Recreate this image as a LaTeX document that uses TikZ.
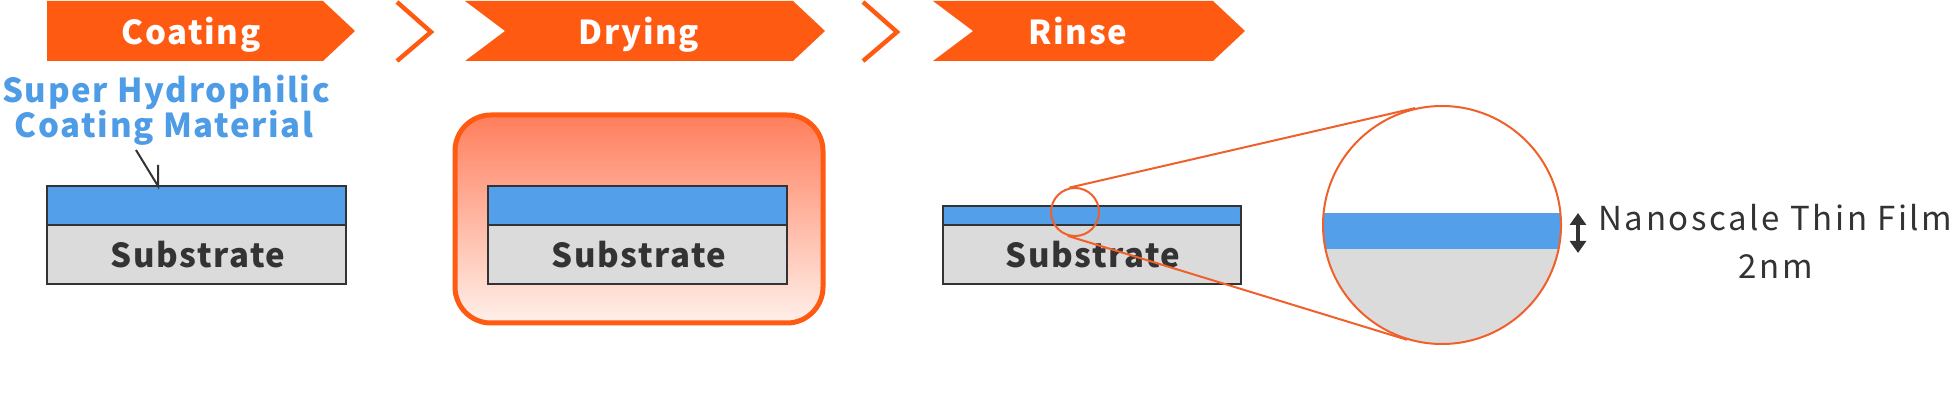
\documentclass[tikz,border=0pt]{standalone}
\usepackage{fontspec}
\newfontfamily\bfnt{Noto Sans CJK JP}[LetterSpace=5]
\newfontfamily\rfnt{Noto Sans CJK JP}[LetterSpace=8]
\usetikzlibrary{arrows.meta,calc}
\definecolor{orng}{HTML}{FF5A12}
\definecolor{lorng}{HTML}{F0602A}
\definecolor{fblue}{HTML}{539FE9}
\definecolor{tblue}{HTML}{4E9BE6}
\definecolor{sgray}{HTML}{DCDBDB}
\definecolor{dk}{HTML}{333333}
\definecolor{gtop}{HTML}{FF7E5C}
\definecolor{gbot}{HTML}{FFF0EA}
\begin{document}
\begin{tikzpicture}[x=0.5pt,y=-0.5pt,
  banner/.style={fill=orng},
  btext/.style={text=white,font=\bfnt\bfseries\fontsize{16.5}{20}\selectfont,inner sep=0,anchor=base},
  chev/.style={draw=orng,line width=2.2pt},
  layerline/.style={draw=dk,line width=1.1pt},
  subtext/.style={text=dk,font=\bfnt\bfseries\fontsize{16.5}{20}\selectfont,inner sep=0,anchor=base},
  lbl/.style={text=tblue,font=\bfnt\bfseries\fontsize{16.5}{20}\selectfont,inner sep=0,anchor=base},
  nanotext/.style={text=dk,font=\rfnt\fontsize{16.5}{20}\selectfont,inner sep=0},
  zoomline/.style={draw=lorng,line width=1pt},
  zcirc/.style={circle,draw=lorng,line width=1pt,inner sep=0}]
\useasboundingbox (0,0) rectangle (1952,416);
% banners
\path[banner] (47,1) -- (323,1) -- (355,31) -- (323,61) -- (47,61) -- cycle;
\node[btext] (tcoat) at (191,45) {Coating};
\draw[chev] (397,2) -- (431,32) -- (397,61);
\path[banner] (465,1) -- (793,1) -- (825,31) -- (793,61) -- (465,61) -- (505,31) -- cycle;
\node[btext] (tdry) at (639,45) {Drying};
\draw[chev] (863,2) -- (897,32) -- (863,61);
\path[banner] (933,1) -- (1213,1) -- (1245,31) -- (1213,61) -- (933,61) -- (973,31) -- cycle;
\node[btext] (trinse) at (1078,45) {Rinse};
% label
\node[lbl] (lab1) at (166,103) {Super Hydrophilic};
\node[lbl] (lab2) at (164,138) {Coating Material};
% coating block
\fill[sgray] (47,225) rectangle (346,284);
\fill[fblue] (47,186) rectangle (346,225);
\draw[layerline] (47,186) rectangle (346,284);
\draw[layerline] (47,225) -- (346,225);
\node[subtext] (s1) at (198,268) {Substrate};
\coordinate (ldA) at (136,150);
\coordinate (ldM) at (158,186);
\coordinate (ldB) at (158,165);
\draw[dk,line width=1pt] (ldA) -- (ldM) -- (ldB);
% drying
\draw[draw=orng,line width=2.5pt,rounded corners=18pt,top color=gtop,bottom color=gbot] (455,115) rectangle (823,323);
\fill[sgray] (488,225) rectangle (787,284);
\fill[fblue] (488,186) rectangle (787,225);
\draw[layerline] (488,186) rectangle (787,284);
\draw[layerline] (488,225) -- (787,225);
\node[subtext] (s2) at (639,268) {Substrate};
% rinse
\fill[sgray] (943,225) rectangle (1241,284);
\fill[fblue] (943,206) rectangle (1241,225);
\draw[layerline] (943,206) rectangle (1241,284);
\draw[layerline] (943,225) -- (1241,225);
\node[subtext] (s3) at (1093,268) {Substrate};
% zoom
\node[zcirc,minimum size=24pt] (zs) at (1075,212) {};
\begin{scope}
\clip (1442,225) circle (119);
\fill[white] (1300,100) rectangle (1600,350);
\fill[fblue] (1300,213) rectangle (1600,249);
\fill[sgray] (1300,249) rectangle (1600,350);
\end{scope}
\node[zcirc,minimum size=119pt] (zb) at (1442,225) {};
\draw[zoomline] (zs.103) -- (zb.103);
\draw[zoomline] (zs.253) -- (zb.253);
% arrow
\coordinate (ar1) at (1578,213);
\coordinate (ar2) at (1578,253);
\draw[dk,line width=2pt,{Triangle[width=8pt,length=6pt]}-{Triangle[width=8pt,length=6pt]}] (ar1) -- (ar2);
\node[nanotext,anchor=base west] (nano) at (1598,231) {Nanoscale Thin Film};
\node[nanotext,anchor=base] (two) at (1776,279) {2nm};
\end{tikzpicture}
\end{document}
